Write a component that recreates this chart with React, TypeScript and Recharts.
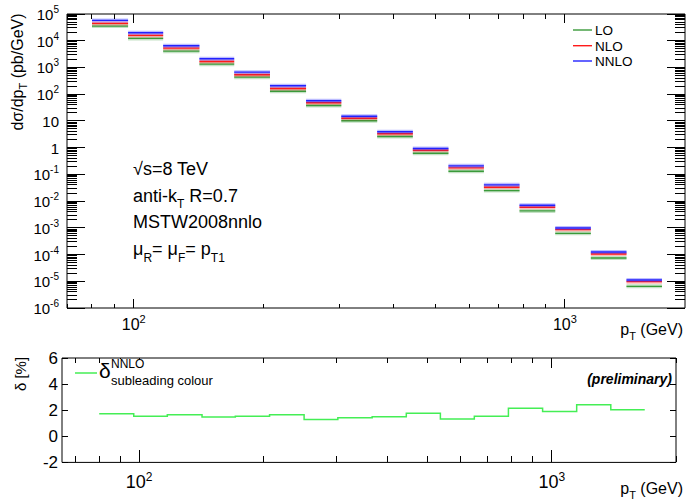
import React from 'react';
import { LineChart, Line, XAxis, YAxis } from 'recharts';

// bin edges in pT (GeV), shared by both panels
const binEdges = [80, 97, 117, 142, 171, 207, 251, 303, 367, 444, 537, 649, 785, 950, 1149, 1390, 1680];

// dsigma/dpT (pb/GeV) per bin
const loValues = [35200, 12200, 4070, 1330, 434, 129, 37.8, 10.1, 2.61, 0.617, 0.131, 0.0247, 0.0043, 0.000622, 7.45e-5, 6.45e-6];
const nloValues = [44500, 15800, 5280, 1680, 533, 163, 47.6, 12.6, 3.29, 0.8, 0.175, 0.0329, 0.00586, 0.000857, 1.05e-4, 9.7e-6];
const nnloValues = [57500, 20000, 6500, 2120, 667, 207, 56.6, 15.0, 3.91, 0.925, 0.208, 0.0405, 0.00697, 0.00099, 1.25e-4, 1.12e-5];

// subleading colour correction in %
const deltaValues = [1.73, 1.53, 1.65, 1.47, 1.53, 1.65, 1.28, 1.43, 1.5, 1.76, 1.32, 1.53, 2.14, 1.91, 2.42, 2.04];

const yMajorTicks = [1e-6, 1e-5, 1e-4, 1e-3, 1e-2, 1e-1, 1, 10, 1e2, 1e3, 1e4, 1e5];
const xTopPanelTicks = [70, 80, 90, 100, 200, 300, 400, 500, 600, 700, 800, 900, 1000];
const xBottomPanelTicks = [70, 80, 90, 100, 200, 300, 400, 500, 600, 700, 800, 900, 1000, 2000];
const xLabelTicks = [100, 1000];
const deltaTicks = [-2, 0, 2, 4, 6];

const FONT = '"Liberation Sans", Arial, Helvetica, sans-serif';

const LO_COLOR = '#3a9a3a';
const NLO_COLOR = '#ff1a1a';
const NNLO_COLOR = '#2222ff';
const DELTA_COLOR = '#44ee55';

// minor log ticks 2..9 inside each decade
const yAllTicks: number[] = [];
yMajorTicks.forEach((d, i) => {
    yAllTicks.push(d);
    if (i < yMajorTicks.length - 1) {
        for (let m = 2; m <= 9; m++) yAllTicks.push(+(d * m).toPrecision(3));
    }
});

// horizontal bin segments, broken by a null row between bins
const spectrumData: any[] = [];
binEdges.slice(0, -1).forEach((lo, i) => {
    const hi = binEdges[i + 1];
    const row = { lo: loValues[i], nlo: nloValues[i], nnlo: nnloValues[i] };
    spectrumData.push({ x: lo, ...row });
    spectrumData.push({ x: hi, ...row });
    spectrumData.push({ x: hi, lo: null, nlo: null, nnlo: null });
});

const deltaData = binEdges.map((x, i) => ({
    x,
    delta: deltaValues[Math.min(i, deltaValues.length - 1)],
}));

const isPow10 = (v: number) => {
    const e = Math.round(Math.log10(v));
    return Math.abs(v - Math.pow(10, e)) / Math.pow(10, e) < 1e-6;
};

const PowLabel = ({ v, x, y, anchor, size, supSize }: any) => {
    const e = Math.round(Math.log10(v));
    if (e === 0) return <text x={x} y={y} textAnchor={anchor} fontSize={size} fontFamily={FONT}>1</text>;
    if (e === 1) return <text x={x} y={y} textAnchor={anchor} fontSize={size} fontFamily={FONT}>10</text>;
    return (
        <text x={x} y={y} textAnchor={anchor} fontSize={size} fontFamily={FONT}>
            10<tspan dy={-7} fontSize={supSize}>{e}</tspan>
        </text>
    );
};

const tickStroke = { stroke: '#000', strokeWidth: 1, shapeRendering: 'crispEdges' as const };

// ---- top panel ticks (drawn inward, ROOT style)
const TopLeftTick = ({ x, y, payload }: any) => {
    const major = isPow10(payload.value);
    if (!major) return <line x1={x} x2={x + 10} y1={y} y2={y} {...tickStroke} />;
    return (
        <g>
            <line x1={x} x2={x + 18} y1={y} y2={y} {...tickStroke} />
            <PowLabel v={payload.value} x={x - 8} y={y + 6} anchor="end" size={15} supSize={10} />
        </g>
    );
};
const TopRightTick = ({ x, y, payload }: any) => {
    const major = isPow10(payload.value);
    return <line x1={x} x2={x - (major ? 18 : 10)} y1={y} y2={y} {...tickStroke} />;
};
const TopBottomTick = ({ x, y, payload }: any) => {
    const major = xLabelTicks.includes(payload.value);
    return (
        <g>
            <line x1={x} x2={x} y1={y} y2={y - (major ? 9 : 4)} {...tickStroke} />
            {major ? <PowLabel v={payload.value} x={x} y={y + 22} anchor="middle" size={16} supSize={11} /> : null}
        </g>
    );
};
const TopTopTick = ({ x, y, payload }: any) => {
    const major = xLabelTicks.includes(payload.value);
    return <line x1={x} x2={x} y1={y} y2={y + (major ? 9 : 5)} {...tickStroke} />;
};

// ---- bottom panel ticks
const BotLeftTick = ({ x, y, payload }: any) => (
    <g>
        <line x1={x} x2={x + 6} y1={y} y2={y} {...tickStroke} />
        <text x={x - 4} y={y + 6} textAnchor="end" fontSize={17} fontFamily={FONT}>{payload.value}</text>
    </g>
);
const BotRightTick = ({ x, y }: any) => (
    <line x1={x} x2={x - 6} y1={y} y2={y} {...tickStroke} />
);
const BotBottomTick = ({ x, y, payload }: any) => {
    const major = xLabelTicks.includes(payload.value);
    return (
        <g>
            <line x1={x} x2={x} y1={y} y2={y - (major ? 12 : 6)} {...tickStroke} />
            {major ? <PowLabel v={payload.value} x={x} y={y + 26} anchor="middle" size={18} supSize={12} /> : null}
        </g>
    );
};
const BotTopTick = ({ x, y, payload }: any) => {
    const major = xLabelTicks.includes(payload.value);
    return <line x1={x} x2={x} y1={y} y2={y + (major ? 10 : 5)} {...tickStroke} />;
};

const seriesLine = (key: string, color: string) => [
    <Line key={key + '-band'} dataKey={key} stroke={color} strokeOpacity={0.3} strokeWidth={4}
          dot={false} activeDot={false} isAnimationActive={false} />,
    <Line key={key} dataKey={key} stroke={color} strokeWidth={1.4}
          dot={false} activeDot={false} isAnimationActive={false} />,
];

export default function App() {
    return (
        <div style={{ position: 'absolute', left: 0, top: 0, width: 687, height: 504, background: '#fff', fontFamily: FONT }}>
            <div style={{ position: 'absolute', left: 0, top: 0 }}>
                <LineChart width={687} height={340} data={spectrumData} margin={{ top: 13, right: 1, bottom: 0, left: 0 }}>
                    <XAxis xAxisId="b" dataKey="x" type="number" scale="log" domain={[70, 1900]} allowDataOverflow
                           ticks={xTopPanelTicks} interval={0} tickSize={0} tickMargin={0} height={32}
                           axisLine={{ stroke: '#000' }} tickLine={false} tick={<TopBottomTick />} />
                    <XAxis xAxisId="t" orientation="top" dataKey="x" type="number" scale="log" domain={[70, 1900]} allowDataOverflow
                           ticks={xTopPanelTicks} interval={0} tickSize={0} tickMargin={0} height={1}
                           axisLine={{ stroke: '#000' }} tickLine={false} tick={<TopTopTick />} />
                    <YAxis yAxisId="l" type="number" scale="log" domain={[1e-6, 1e5]} allowDataOverflow
                           ticks={yAllTicks} interval={0} tickSize={0} tickMargin={0} width={67}
                           axisLine={{ stroke: '#000' }} tickLine={false} tick={<TopLeftTick />} />
                    <YAxis yAxisId="r" orientation="right" type="number" scale="log" domain={[1e-6, 1e5]} allowDataOverflow
                           ticks={yAllTicks} interval={0} tickSize={0} tickMargin={0} width={1}
                           axisLine={{ stroke: '#000' }} tickLine={false} tick={<TopRightTick />} />
                    {[...seriesLine('lo', LO_COLOR), ...seriesLine('nlo', NLO_COLOR), ...seriesLine('nnlo', NNLO_COLOR)].map((el: any) =>
                        React.cloneElement(el, { xAxisId: 'b', yAxisId: 'l', type: 'linear' }))}
                </LineChart>
            </div>
            <div style={{ position: 'absolute', left: 0, top: 340 }}>
                <LineChart width={687} height={164} data={deltaData} margin={{ top: 17, right: 10, bottom: 0, left: 0 }}>
                    <XAxis xAxisId="b" dataKey="x" type="number" scale="log" domain={[65, 2000]} allowDataOverflow
                           ticks={xBottomPanelTicks} interval={0} tickSize={0} tickMargin={0} height={41.6}
                           axisLine={{ stroke: '#000' }} tickLine={false} tick={<BotBottomTick />} />
                    <XAxis xAxisId="t" orientation="top" dataKey="x" type="number" scale="log" domain={[65, 2000]} allowDataOverflow
                           ticks={xBottomPanelTicks} interval={0} tickSize={0} tickMargin={0} height={1}
                           axisLine={{ stroke: '#000' }} tickLine={false} tick={<BotTopTick />} />
                    <YAxis yAxisId="l" type="number" domain={[-2, 6]} allowDataOverflow
                           ticks={deltaTicks} interval={0} tickSize={0} tickMargin={0} width={62}
                           axisLine={{ stroke: '#000' }} tickLine={false} tick={<BotLeftTick />} />
                    <YAxis yAxisId="r" orientation="right" type="number" domain={[-2, 6]} allowDataOverflow
                           ticks={deltaTicks} interval={0} tickSize={0} tickMargin={0} width={1}
                           axisLine={{ stroke: '#000' }} tickLine={false} tick={<BotRightTick />} />
                    <Line xAxisId="b" yAxisId="l" type="stepAfter" dataKey="delta" stroke={DELTA_COLOR} strokeWidth={1.5}
                          dot={false} activeDot={false} isAnimationActive={false} />
                </LineChart>
            </div>

            {/* labels, annotations and legends */}
            <svg width={687} height={504} style={{ position: 'absolute', left: 0, top: 0, pointerEvents: 'none' }} fontFamily={FONT}>
                <text transform="translate(23,72) rotate(-90)" textAnchor="middle" fontSize={16}>
                    dσ/dp<tspan dy={4} fontSize={11}>T</tspan><tspan dy={-4}> (pb/GeV)</tspan>
                </text>
                <text x={683} y={335} textAnchor="end" fontSize={16}>
                    p<tspan dy={5} fontSize={11}>T</tspan><tspan dy={-5}> (GeV)</tspan>
                </text>

                <g fontSize={18}>
                    <text x={133} y={175}>√s=8 TeV</text>
                    <text x={133} y={201.7}>anti-k<tspan dy={6} fontSize={12}>T</tspan><tspan dy={-6}> R=0.7</tspan></text>
                    <text x={133} y={228.3}>MSTW2008nnlo</text>
                    <text x={133} y={255}>
                        μ<tspan dy={7} fontSize={12}>R</tspan><tspan dy={-7}>= μ</tspan><tspan dy={7} fontSize={12}>F</tspan>
                        <tspan dy={-7}>= p</tspan><tspan dy={7} fontSize={12}>T1</tspan>
                    </text>
                </g>

                <g fontSize={13.5}>
                    <line x1={573} x2={592} y1={30} y2={30} stroke={LO_COLOR} strokeWidth={1.4} />
                    <text x={595} y={35}>LO</text>
                    <line x1={573} x2={592} y1={45.7} y2={45.7} stroke={NLO_COLOR} strokeWidth={1.4} />
                    <text x={595} y={50.7}>NLO</text>
                    <line x1={573} x2={592} y1={61} y2={61} stroke={NNLO_COLOR} strokeWidth={1.4} />
                    <text x={595} y={66}>NNLO</text>
                </g>

                <text transform="translate(26,374) rotate(-90)" textAnchor="middle" fontSize={15}>δ [%]</text>
                {/* legend box hides the top-axis ticks behind it */}
                <rect x={104} y={359} width={116} height={30} fill="#fff" />
                <line x1={75} x2={97} y1={373} y2={373} stroke={DELTA_COLOR} strokeWidth={1.5} />
                <text x={99} y={378} fontSize={21}>δ</text>
                <text x={111} y={368} fontSize={12}>NNLO</text>
                <text x={111} y={385} fontSize={13}>subleading colour</text>
                <text x={672} y={384} textAnchor="end" fontSize={14} fontWeight="bold" fontStyle="italic">(preliminary)</text>
                <text x={683} y={494} textAnchor="end" fontSize={16}>
                    p<tspan dy={5} fontSize={11}>T</tspan><tspan dy={-5}> (GeV)</tspan>
                </text>
            </svg>
        </div>
    );
}
